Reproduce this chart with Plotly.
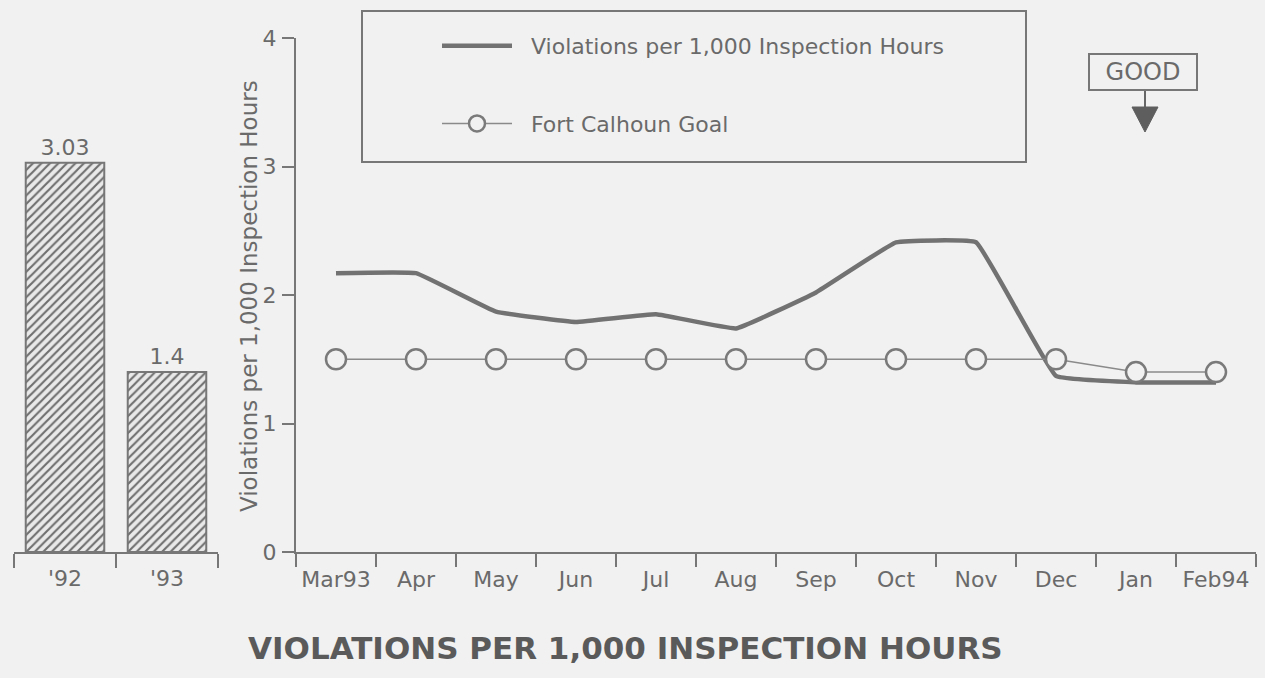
import plotly.graph_objects as go

# ---- data ----
years = ["'92", "'93"]
year_values = [3.03, 1.4]
months = ["Mar93", "Apr", "May", "Jun", "Jul", "Aug", "Sep", "Oct", "Nov", "Dec", "Jan", "Feb94"]
violations = [2.17, 2.17, 1.87, 1.79, 1.85, 1.74, 2.02, 2.41, 2.41, 1.37, 1.32, 1.32]
goal = [1.5, 1.5, 1.5, 1.5, 1.5, 1.5, 1.5, 1.5, 1.5, 1.5, 1.4, 1.4]
y_ticks = [0, 1, 2, 3, 4]

W, H = 1265, 678
BG = "#f1f1f1"
INK = "#6a6a6a"
FONT = "DejaVu Sans"

def px(x):
    return x / W

def py(y):
    return 1 - y / H

fig = go.Figure()

fig.add_trace(go.Bar(
    x=years, y=year_values, xaxis="x2", yaxis="y2", width=0.77,
    marker=dict(color="#e9e9e9", line=dict(color="#777777", width=2),
                pattern=dict(shape="/", fgcolor="#6e6e6e", bgcolor="#e9e9e9", size=6, solidity=0.35)),
    text=[str(v) for v in year_values], textposition="outside",
    textfont=dict(family=FONT, size=22, color=INK), cliponaxis=False, showlegend=False,
))

fig.add_trace(go.Scatter(
    x=months, y=violations, mode="lines", name="&nbsp;&nbsp;Violations per 1,000 Inspection Hours",
    line=dict(color="#727272", width=4.5, shape="spline", smoothing=0.25), legendgroup="a",
))
fig.add_trace(go.Scatter(
    x=months, y=goal, mode="lines+markers", name="&nbsp;&nbsp;Fort Calhoun Goal",
    line=dict(color="#8a8a8a", width=1.5),
    marker=dict(symbol="circle", size=20, color=BG, line=dict(color="#7a7a7a", width=2.5)),
    legendgroup="b",
))

axis_common = dict(showgrid=False, zeroline=False, linecolor="#777777", linewidth=2,
                   ticks="outside", tickcolor="#777777", tickwidth=1.5, automargin=False,
                   tickfont=dict(family=FONT, size=22, color=INK))

fig.update_layout(
    template="none",
    width=W, height=H, margin=dict(l=0, r=0, t=0, b=0, pad=0, autoexpand=False),
    paper_bgcolor=BG, plot_bgcolor=BG,
    font=dict(family=FONT, color=INK),
    xaxis=dict(domain=[px(296), px(1256)], range=[-0.5, 11.5], type="category",
               tickson="boundaries", ticklen=13, ticklabelstandoff=7, anchor="y", **axis_common),
    yaxis=dict(domain=[py(552), py(38)], range=[0, 4], tickvals=y_ticks, ticklen=12,
               ticklabelstandoff=1, anchor="x", **axis_common),
    xaxis2=dict(domain=[px(14), px(218)], range=[-0.5, 1.5], type="category",
                tickson="boundaries", ticklen=14, ticklabelstandoff=6, anchor="y2", **axis_common),
    yaxis2=dict(domain=[py(552), py(38)], range=[0, 4], visible=False, anchor="x2"),
    legend=dict(x=px(437), y=py(25), xanchor="left", yanchor="top", bgcolor="rgba(0,0,0,0)",
                borderwidth=0, font=dict(family=FONT, size=22, color=INK), itemwidth=70,
                tracegroupgap=46, traceorder="grouped"),
    showlegend=True,
)

# legend frame
fig.add_shape(type="rect", xref="paper", yref="paper", x0=px(362), x1=px(1026), y0=py(162), y1=py(11),
              line=dict(color="#777777", width=2))

# GOOD indicator
fig.add_annotation(x=px(1143), y=py(72), xref="paper", yref="paper", xanchor="center", yanchor="middle",
                   text="GOOD", showarrow=False,
                   font=dict(family=FONT, size=24, color=INK), bordercolor="#777777", borderwidth=2,
                   borderpad=0, width=106, height=34, bgcolor=BG)
fig.add_shape(type="line", xref="paper", yref="paper", x0=px(1145), x1=px(1145), y0=py(90), y1=py(110),
              line=dict(color="#666666", width=2))
fig.add_shape(type="path", xref="paper", yref="paper",
              path=f"M {px(1132)},{py(107)} L {px(1158)},{py(107)} L {px(1145)},{py(132)} Z",
              fillcolor="#5e5e5e", line=dict(color="#5e5e5e", width=1))

# y-axis title
fig.add_annotation(x=px(249), y=py(296), xref="paper", yref="paper", xanchor="center", yanchor="middle",
                   textangle=-90, text="Violations per 1,000 Inspection Hours", showarrow=False,
                   font=dict(family=FONT, size=23, color=INK))

# chart title
fig.add_annotation(x=px(625), y=py(648), xref="paper", yref="paper", xanchor="center", yanchor="middle",
                   text="<b>VIOLATIONS PER 1,000 INSPECTION HOURS</b>", showarrow=False,
                   font=dict(family=FONT, size=31, color="#5a5a5a"))

fig.write_html(
    "out.html",
    config={"displayModeBar": False},
    post_script="document.documentElement.style.margin='0';document.body.style.margin='0';"
                "document.body.style.overflow='hidden';document.documentElement.style.overflow='hidden';",
)
